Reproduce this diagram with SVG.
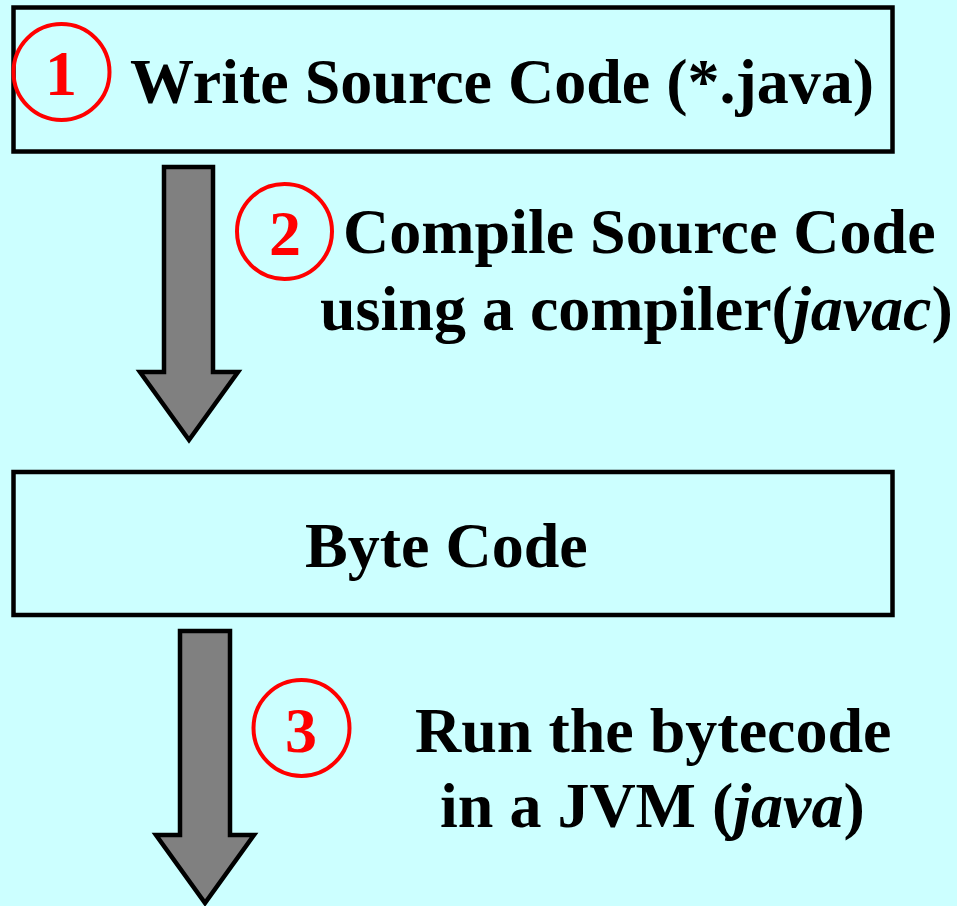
<svg xmlns="http://www.w3.org/2000/svg" width="957" height="906" viewBox="0 0 957 906">
  <style>
    .box { fill: #CCFFFF; stroke: #000; stroke-width: 4.5; }
    .arrow { fill: #808080; stroke: #000; stroke-width: 4.5; stroke-linejoin: miter; }
    .badge { fill: none; stroke: #FF0000; stroke-width: 4; }
    .num { font-family: "Liberation Serif", "Times New Roman", serif; font-weight: bold; font-size: 64px; fill: #FF0000; text-anchor: middle; }
    .lbl { font-family: "Liberation Serif", "Times New Roman", serif; font-weight: bold; font-size: 64px; fill: #000; }
    .it { font-style: italic; }
  </style>
  <rect width="957" height="906" fill="#CCFFFF"/>

  <g id="source">
    <rect class="box" x="13.5" y="7.5" width="879" height="144"/>
    <circle class="badge" cx="61.5" cy="72" r="48"/>
    <text class="num" x="61" y="95">1</text>
    <text class="lbl" x="130" y="103">Write Source Code (*.java)</text>
  </g>

  <g id="bytecode">
    <rect class="box" x="13.5" y="472" width="879" height="143"/>
    <text class="lbl" x="305" y="567">Byte Code</text>
  </g>

  <g id="connectors">
    <g id="compile">
      <path class="arrow" d="M164,167 H213 V372 H238 L189,440 L140,372 H164 Z"/>
      <circle class="badge" cx="284.5" cy="231.5" r="47.5"/>
      <text class="num" x="285" y="255">2</text>
      <text class="lbl" x="343" y="253">Compile Source Code</text>
      <text class="lbl" x="320" y="330">using a compiler(<tspan class="it">javac</tspan>)</text>
    </g>
    <g id="run">
      <path class="arrow" d="M180,631 H230 V835 H254 L205,903 L156,835 H180 Z"/>
      <circle class="badge" cx="301.5" cy="728" r="48"/>
      <text class="num" x="301" y="752">3</text>
      <text class="lbl" x="415" y="752">Run the bytecode</text>
      <text class="lbl" x="440" y="827">in a JVM (<tspan class="it">java</tspan>)</text>
    </g>
  </g>
</svg>
